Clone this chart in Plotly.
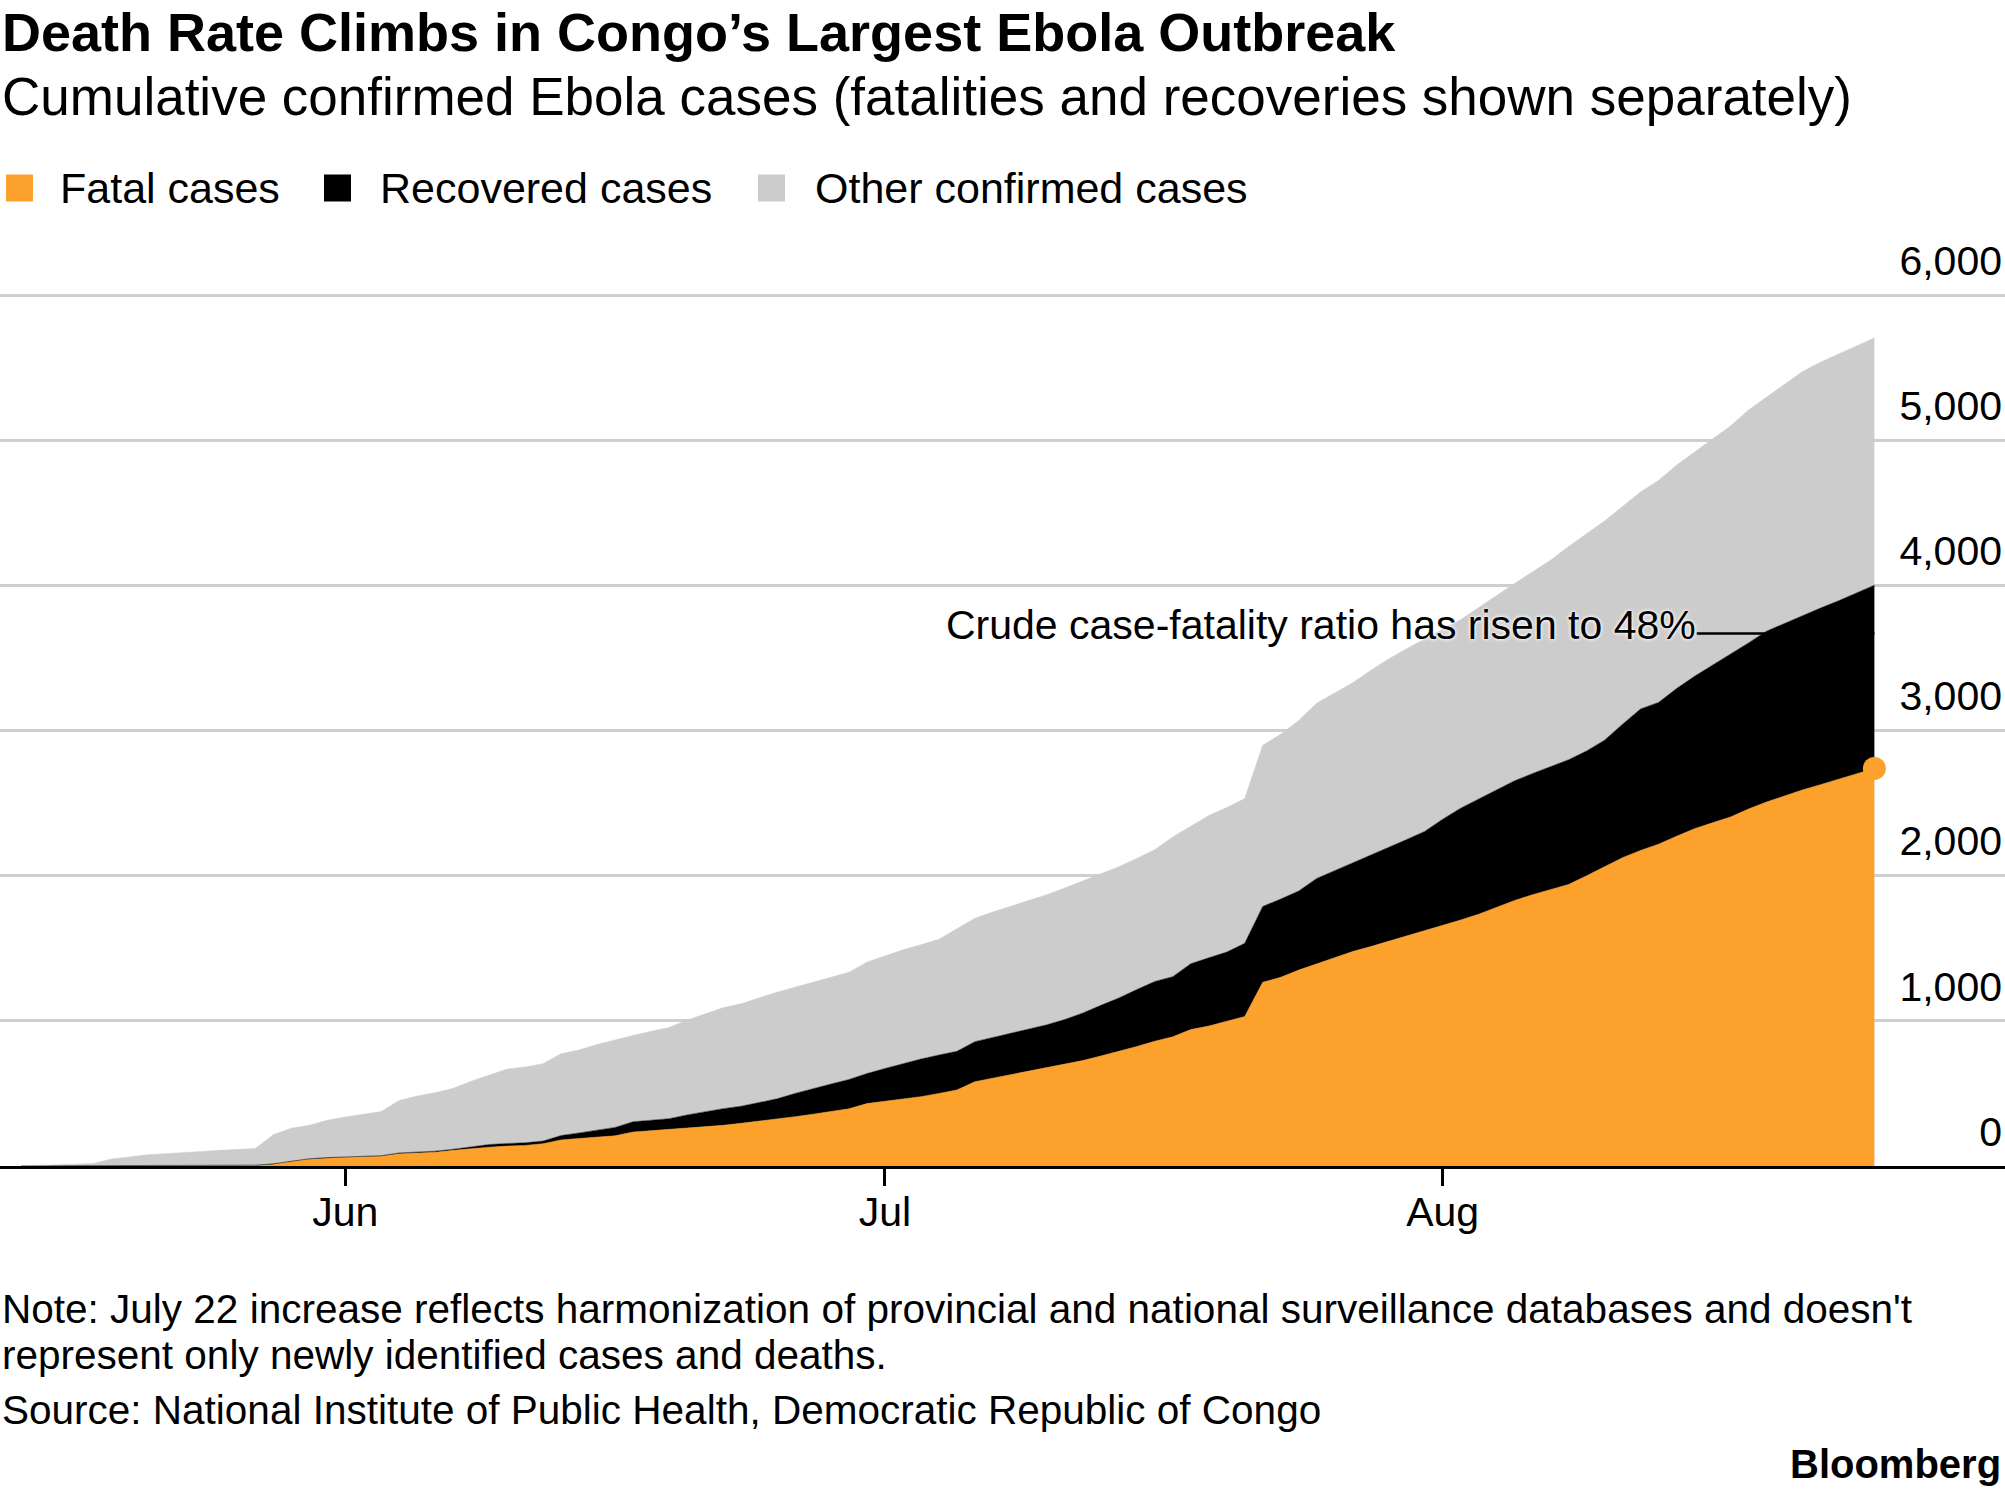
import pandas as pd
import plotly.graph_objects as go

# daily readings, May 14 - Aug 25
dates = pd.date_range("2019-05-14", "2019-08-25", freq="D")

# cumulative fatal cases
fatal = [0, 0, 0, 1, 1, 1, 1, 2, 2, 2, 3, 3, 3, 4,
         10, 38, 46, 54,
         60, 63, 67, 85, 90, 95, 108, 120, 130, 137,
         142, 154, 180, 190, 200, 208, 234, 243, 250, 260,
         268, 280, 294, 308, 324, 340, 357, 375, 394, 430,
         445, 460, 478, 500, 524, 581, 605, 628, 650, 674,
         700, 727, 758, 790, 823, 860, 890, 940, 964, 998,
         1030, 1266, 1300, 1350, 1394, 1438, 1478, 1512, 1548, 1585,
         1620,
         1655, 1695, 1735, 1785, 1830, 1870, 1905, 1940, 2000, 2060,
         2125, 2175, 2218, 2272, 2325, 2365, 2405, 2460, 2508, 2550,
         2592, 2628, 2665, 2700, 2740]

# cumulative fatal + recovered cases
fatal_recovered = [1, 1, 1, 2, 2, 2, 3, 3, 3, 4, 4, 5, 5, 6,
                   15, 34, 50, 58,
                   62, 66, 71, 90, 96, 102, 115, 132, 148, 155,
                   160, 172, 210, 228, 245, 266, 305, 316, 326, 352,
                   375, 395, 412, 438, 463, 500, 535, 565, 596, 637,
                   672, 706, 737, 765, 790, 857, 885, 914, 943, 973,
                   1010, 1054, 1107, 1158, 1216, 1272, 1305, 1394, 1435, 1474,
                   1535, 1789, 1840, 1895, 1982, 2035, 2090, 2143, 2195, 2250,
                   2306,
                   2390, 2466, 2530, 2595, 2655, 2705, 2754, 2800, 2860, 2935,
                   3045, 3150, 3195, 3290, 3375, 3450, 3525, 3605, 3686, 3740,
                   3790, 3845, 3895, 3950, 4003]

# cumulative confirmed cases
confirmed = [2, 4, 7, 12, 18, 48, 62, 78, 85, 95, 100, 108, 112, 120,
             216, 260, 280, 315,
             338, 355, 375, 452, 482, 505, 535, 584, 625, 668,
             683, 705, 774, 800, 838, 870, 900, 928, 955, 1005,
             1045, 1090, 1118, 1160, 1198, 1232, 1268, 1300, 1335, 1405,
             1450, 1490, 1525, 1562, 1635, 1707, 1750, 1790, 1828, 1870,
             1916, 1965, 2012, 2063, 2120, 2180, 2268, 2340, 2415, 2470,
             2532, 2900, 2975, 3070, 3190, 3260, 3330, 3415, 3495, 3565,
             3635,
             3700, 3765, 3850, 3935, 4015, 4095, 4175, 4270, 4360, 4445,
             4545, 4645, 4725, 4830, 4920, 5010, 5100, 5210, 5300, 5390,
             5475, 5540, 5595, 5650, 5707]

legend_names = ["Fatal cases", "Recovered cases", "Other confirmed cases"]
colors = ["#fca12b", "#000000", "#cccccc"]

month_ticks = ["2019-06-01", "2019-07-01", "2019-08-01"]
month_labels = ["Jun", "Jul", "Aug"]
y_ticks = [0, 1000, 2000, 3000, 4000, 5000, 6000]

FONT = "Liberation Sans"
W, H = 2005, 1494
TOP, BOTTOM = 200, 328
PLOT_H = H - TOP - BOTTOM
Y_PER_PX = 1000 / 145.1  # cases per pixel


def py(p):
    # pixel row -> paper y
    return (H - BOTTOM - p) / PLOT_H


def px(p):
    return p / W


fig = go.Figure()

fig.add_trace(go.Scatter(x=dates, y=fatal, mode="lines", fill="tozeroy",
                         fillcolor=colors[0], line=dict(color=colors[0], width=0.5),
                         showlegend=False, hoverinfo="skip"))
fig.add_trace(go.Scatter(x=dates, y=fatal_recovered, mode="lines", fill="tonexty",
                         fillcolor=colors[1], line=dict(color=colors[1], width=0.5),
                         showlegend=False, hoverinfo="skip"))
fig.add_trace(go.Scatter(x=dates, y=confirmed, mode="lines", fill="tonexty",
                         fillcolor=colors[2], line=dict(color=colors[2], width=0.5),
                         showlegend=False, hoverinfo="skip"))
fig.add_trace(go.Scatter(x=[dates[-1]], y=[fatal[-1]], mode="markers",
                         marker=dict(color=colors[0], size=23),
                         showlegend=False, hoverinfo="skip"))

# callout leader line
fig.add_shape(type="line", xref="x", yref="y",
              x0="2019-08-15 03:00", x1="2019-08-25", y0=3670, y1=3670,
              line=dict(color="black", width=2.5), layer="above")

annotations = [
    dict(text="<b>Death Rate Climbs in Congo’s Largest Ebola Outbreak</b>",
         x=0, y=py(32), font=dict(size=54)),
    dict(text="Cumulative confirmed Ebola cases (fatalities and recoveries shown separately)",
         x=0, y=py(96), font=dict(size=53)),
    dict(text="Note: July 22 increase reflects harmonization of provincial and national surveillance databases and doesn't",
         x=0, y=py(1309), font=dict(size=40.5)),
    dict(text="represent only newly identified cases and deaths.",
         x=0, y=py(1355), font=dict(size=40.5)),
    dict(text="Source: National Institute of Public Health, Democratic Republic of Congo",
         x=0, y=py(1410), font=dict(size=40.5)),
    dict(text="<b>Bloomberg</b>", x=px(2003), xanchor="right", y=py(1464), font=dict(size=40)),
    dict(text="Crude case-fatality ratio has risen to 48%", x=px(944), y=py(625),
         font=dict(size=41, shadow="0px 0px 4px white, 0px 0px 3px white")),
]

# legend drawn as squares + labels
legend_sq = [6, 324, 758]
legend_tx = [58, 378, 813]
for name, col, sx, tx in zip(legend_names, colors, legend_sq, legend_tx):
    fig.add_shape(type="rect", xref="paper", yref="paper",
                  x0=px(sx), x1=px(sx + 27), y0=py(188 + 13.5), y1=py(188 - 13.5),
                  fillcolor=col, line=dict(width=0))
    annotations.append(dict(text=name, x=px(tx), y=py(188), font=dict(size=43)))

for a in annotations:
    a.setdefault("xanchor", "left")
    a.update(xref="paper", yref="paper", yanchor="middle", showarrow=False)
    a["font"].update(family=FONT, color="black")

fig.update_layout(
    width=W, height=H,
    margin=dict(l=0, r=0, t=TOP, b=BOTTOM),
    paper_bgcolor="white", plot_bgcolor="white",
    font=dict(family=FONT, color="black"),
    annotations=annotations,
    showlegend=False,
)

fig.update_xaxes(
    type="date",
    range=["2019-05-12 19:30", "2019-09-01 06:15"],
    tickvals=month_ticks, ticktext=month_labels,
    ticks="outside", ticklen=17, tickwidth=2.5, tickcolor="black",
    ticklabelstandoff=-9,
    tickfont=dict(size=41, family=FONT, color="black"),
    showline=True, linecolor="black", linewidth=2.5,
    showgrid=False, zeroline=False,
)
fig.update_yaxes(
    range=[0, PLOT_H * Y_PER_PX],
    side="right",
    tickvals=y_ticks, tickformat=",",
    ticklabelposition="inside top",
    ticklabelshift=-6,
    ticks="",
    tickfont=dict(size=41, family=FONT, color="black"),
    showgrid=True, gridcolor="#cfcfcf", gridwidth=2.5,
    zeroline=False, showline=False,
)

fig.write_html("out.html", config={"displayModeBar": False},
               post_script="document.body.style.margin='0';document.body.style.overflow='hidden';")
